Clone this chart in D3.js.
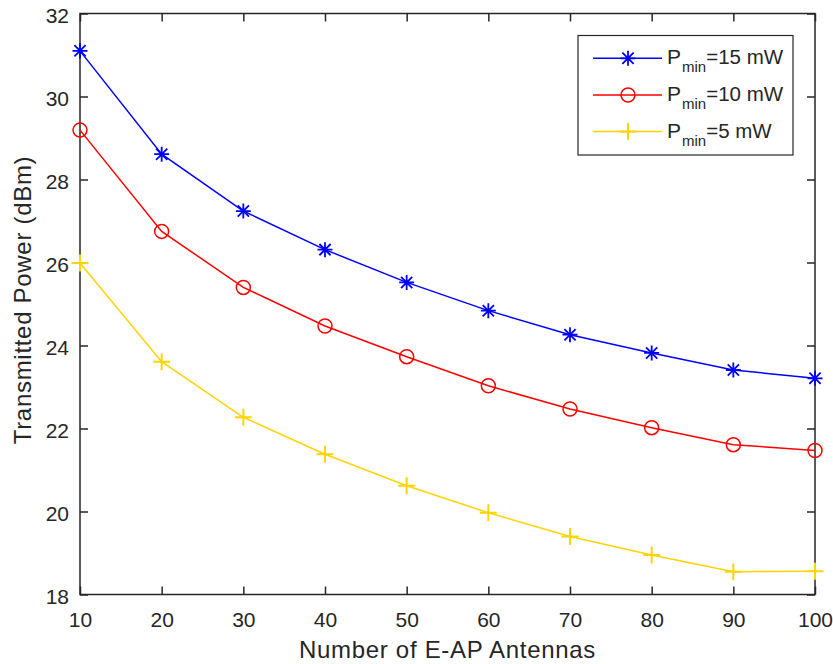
<!DOCTYPE html>
<html><head><meta charset="utf-8">
<script src="https://cdn.jsdelivr.net/npm/d3@7"></script>
<style>body{margin:0;background:#fff}svg{display:block}text{font-family:"Liberation Sans",Arial,sans-serif;fill:#262626}</style>
</head><body><svg id="c" width="833" height="664"></svg>
<script>
const antennas = [10,20,30,40,50,60,70,80,90,100];
const p15 = [31.10,28.61,27.24,26.31,25.52,24.84,24.26,23.82,23.41,23.21];
const p10 = [29.19,26.75,25.40,24.47,23.73,23.03,22.47,22.02,21.61,21.47];
const p5  = [25.99,23.61,22.27,21.38,20.62,19.97,19.40,18.95,18.55,18.56];
const xTicks = [10,20,30,40,50,60,70,80,90,100];
const yTicks = [18,20,22,24,26,28,30,32];
const seriesNames = ["15","10","5"];

const svg = d3.select("#c");
const L=80,R=815,T=13.5,B=594.5;
const x = d3.scaleLinear().domain([10,100]).range([L,R]);
const y = d3.scaleLinear().domain([18,32]).range([B,T]);
const axc="#262626";

// box
svg.append("rect").attr("x",L).attr("y",T).attr("width",R-L).attr("height",B-T)
  .attr("fill","none").attr("stroke",axc).attr("stroke-width",1.5);

const tl=8;
const gx=svg.append("g").attr("transform",`translate(0,${B})`)
  .call(d3.axisBottom(x).tickValues(xTicks).tickSize(-tl).tickPadding(17.5).tickSizeOuter(0));
const gxt=svg.append("g").attr("transform",`translate(0,${T})`)
  .call(d3.axisTop(x).tickValues(xTicks).tickSize(-tl).tickFormat("").tickSizeOuter(0));
const gy=svg.append("g").attr("transform",`translate(${L},0)`)
  .call(d3.axisLeft(y).tickValues(yTicks).tickSize(-tl).tickPadding(11).tickSizeOuter(0));
const gyr=svg.append("g").attr("transform",`translate(${R},0)`)
  .call(d3.axisRight(y).tickValues(yTicks).tickSize(-tl).tickFormat("").tickSizeOuter(0));
[gx,gxt,gy,gyr].forEach(g=>{
  g.select(".domain").remove();
  g.selectAll("line").attr("stroke",axc).attr("stroke-width",1.5);
  g.selectAll("text").attr("font-size",21).attr("fill",axc).attr("font-family","Liberation Sans, Arial, sans-serif");
});
gy.selectAll("text").attr("dy","0.43em");

svg.append("text").attr("x",(L+R)/2).attr("y",658).attr("text-anchor","middle")
  .attr("font-size",24).attr("letter-spacing","0.7px").text("Number of E-AP Antennas");
svg.append("text").attr("transform",`translate(31,300) rotate(-90)`).attr("text-anchor","middle")
  .attr("font-size",24).attr("letter-spacing","0.7px").text("Transmitted Power (dBm)");

const colors=["#0000ff","#ff0000","#ffd400"];
const data=[p15,p10,p5];
const markers=["star","circle","plus"];

function drawMarker(g,type,cx,cy,col){
  if(type==="circle"){
    g.append("circle").attr("cx",cx).attr("cy",cy).attr("r",7).attr("fill","none").attr("stroke",col).attr("stroke-width",1.5);
  } else if(type==="plus"){
    const s=8.5;
    g.append("path").attr("d",`M${cx-s},${cy}H${cx+s}M${cx},${cy-s}V${cy+s}`).attr("stroke",col).attr("stroke-width",2);
  } else {
    const s=7.5, d=s*0.75;
    g.append("path").attr("d",`M${cx-s},${cy}H${cx+s}M${cx},${cy-s}V${cy+s}M${cx-d},${cy-d}L${cx+d},${cy+d}M${cx-d},${cy+d}L${cx+d},${cy-d}`)
      .attr("stroke",col).attr("stroke-width",1.8);
  }
}

const line=d3.line().x((d,i)=>x(antennas[i])).y(d=>y(d));
data.forEach((s,k)=>{
  const g=svg.append("g");
  g.append("path").datum(s).attr("d",line).attr("fill","none").attr("stroke",colors[k]).attr("stroke-width",1.5);
  s.forEach((v,i)=>drawMarker(g,markers[k],x(antennas[i]),y(v),colors[k]));
});

// legend
const lg=svg.append("g");
lg.append("rect").attr("x",578).attr("y",35.5).attr("width",215).attr("height",119.5)
  .attr("fill","#fff").attr("stroke",axc).attr("stroke-width",1.2);
const rows=[58.3,95,131.5];
seriesNames.forEach((n,k)=>{
  const yy=rows[k];
  lg.append("line").attr("x1",593).attr("x2",662).attr("y1",yy).attr("y2",yy).attr("stroke",colors[k]).attr("stroke-width",1.5);
  drawMarker(lg,markers[k],628,yy,colors[k]);
  const t=lg.append("text").attr("x",667).attr("y",yy+6).attr("font-size",21);
  t.append("tspan").text("P");
  t.append("tspan").attr("font-size",15).attr("dx",1).attr("dy",8).text("min");
  t.append("tspan").attr("dy",-8).attr("font-size",20.5).text("="+n+" mW");
});
</script></body></html>
